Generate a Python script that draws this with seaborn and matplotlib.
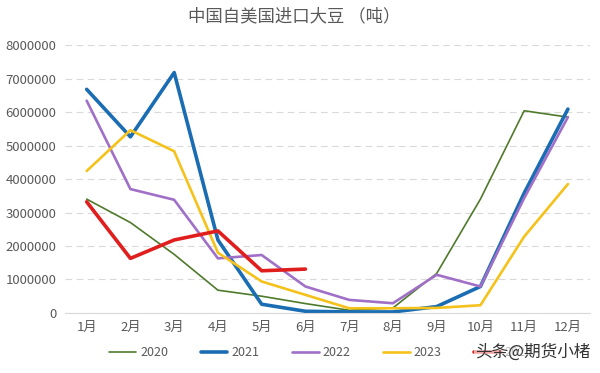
import pandas as pd
import matplotlib
matplotlib.use('Agg')
import matplotlib.pyplot as plt
import seaborn as sns

months = ['1月', '2月', '3月', '4月', '5月', '6月', '7月', '8月', '9月', '10月', '11月', '12月']

y2020 = [3400000, 2700000, 1750000, 680000, 500000, 280000, 80000, 150000, 1180000, 3400000, 6040000, 5850000]
y2021 = [6680000, 5260000, 7180000, 2180000, 260000, 50000, 30000, 30000, 190000, 790000, 3580000, 6090000]
y2022 = [6340000, 3700000, 3380000, 1630000, 1730000, 790000, 390000, 290000, 1140000, 790000, 3430000, 5850000]
y2023 = [4240000, 5460000, 4830000, 1800000, 940000, 540000, 140000, 140000, 150000, 230000, 2280000, 3850000]
y2024 = [3320000, 1630000, 2180000, 2450000, 1260000, 1310000]

years = ['2020', '2021', '2022', '2023', '2024']
colors = ['#4f7a2c', '#1b6db3', '#a070c8', '#f5c21b', '#e01e1e']
widths = [1.2, 2.6, 1.9, 1.9, 2.6]

sns.set_style('white')
plt.rcParams['font.family'] = ['Noto Sans CJK SC', 'DejaVu Sans']

fig = plt.figure(figsize=(6, 3.73), dpi=100)
ax = fig.add_axes([0.108, 0.161, 0.875, 0.718])

series = [y2020, y2021, y2022, y2023, y2024]
for yr, vals, c, w in zip(years, series, colors, widths):
    df = pd.DataFrame({'月份': months[:len(vals)], '进口量': vals})
    sns.lineplot(data=df, x='月份', y='进口量', ax=ax, color=c, linewidth=w,
                 label=yr, sort=False)

ax.set_xlim(-0.5, 11.5)
ax.set_ylim(0, 8000000)
ax.set_yticks(range(0, 8000001, 1000000))
ax.set_yticklabels([str(v) for v in range(0, 8000001, 1000000)])
ax.set_xlabel('')
ax.set_ylabel('')
ax.grid(axis='y', color='#d9d9d9', linestyle=(0, (6, 4)), linewidth=0.8)
for s in ['top', 'right', 'left']:
    ax.spines[s].set_visible(False)
ax.spines['bottom'].set_color('#d9d9d9')
ax.tick_params(axis='both', length=0, labelsize=9.5, colors='#595959', pad=6)

fig.text(0.49, 0.955, '中国自美国进口大豆 （吨）', ha='center', va='center',
         fontsize=12.5, color='#595959')

ax.legend(loc='center', bbox_to_anchor=(0.535, 0.055), bbox_transform=fig.transFigure,
          ncol=5, frameon=False, fontsize=9, handlelength=2.15, handletextpad=0.3,
          columnspacing=2.6, labelcolor='#595959')

fig.text(0.985, 0.055, '头条@期货小楮', ha='right', va='center', fontsize=12,
         color='#333333', bbox=dict(facecolor='white', edgecolor='none', alpha=0.6, pad=1))

fig.savefig('out.png', dpi=100)
